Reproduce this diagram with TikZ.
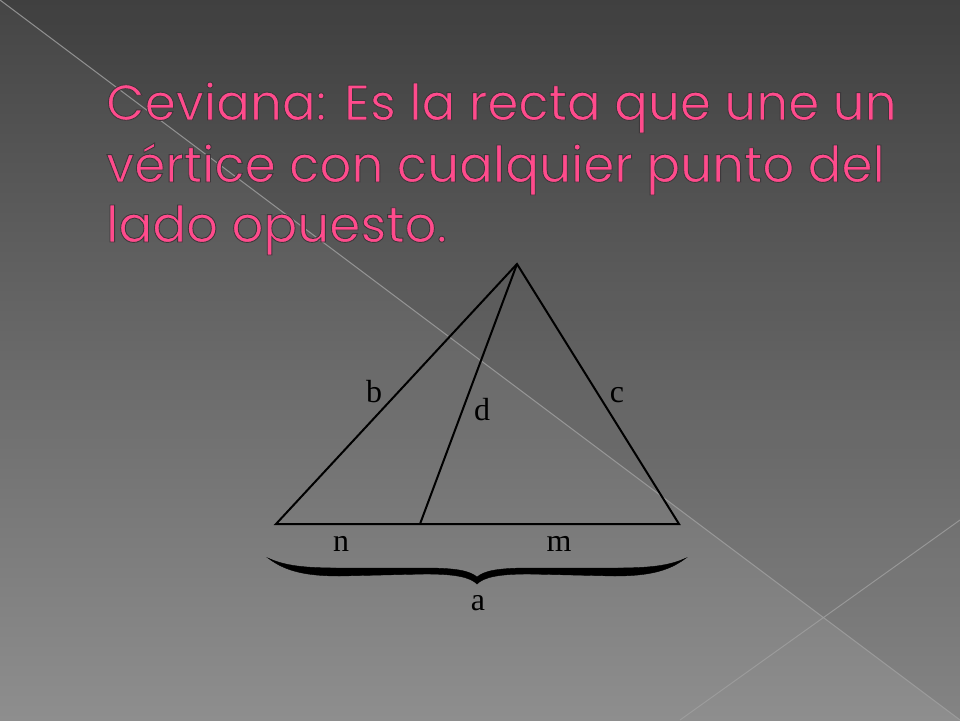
\documentclass[tikz,border=0pt]{standalone}
\usepackage{fontspec}
\setmainfont{Liberation Serif}
\newfontfamily\titlefont{Poppins}
\definecolor{bgtop}{HTML}{454545}
\definecolor{bgbot}{HTML}{8E8E8E}
\definecolor{titlepink}{HTML}{FF4B8C}
\definecolor{diagline}{HTML}{A0A0A0}
\newcommand{\outlinedtext}[1]{\special{pdf:literal direct 2 Tr 0.9 w 0.24 0.22 0.23 RG}#1\special{pdf:literal direct 0 Tr}}
\tikzset{
  titleline/.style={anchor=base west, inner sep=0pt, text=titlepink, font=\titlefont\fontsize{50}{60}\selectfont},
  seglabel/.style={anchor=base, inner sep=0pt, text=black, font=\fontsize{32}{36}\selectfont},
  side/.style={draw=black, line width=2pt, line join=miter},
  bgline/.style={draw=diagline, line width=1pt, opacity=0.8},
  bracefill/.style={fill=black, draw=black, line width=0.4pt}
}
\begin{document}
\begin{tikzpicture}[x=1pt,y=-1pt]
\useasboundingbox (0,0) rectangle (960,720);
% background
\shade[top color=bgtop, bottom color=bgbot] (0,0) rectangle (960,720);
\fill[black, opacity=0.07] (0,0) -- (960,0) -- (960,720) -- cycle;
\coordinate (g1) at (0,0);
\coordinate (g2) at (960,720);
\coordinate (g3) at (680,720);
\coordinate (g4) at (960,520);
\draw[bgline] (g1) -- (g2);
\draw[bgline] (g3) -- (g4);
% title
\node[titleline] (t1) at (106,120) {\outlinedtext{Ceviana: Es la recta que une un}};
\node[titleline] (t2) at (106,182) {\outlinedtext{vértice con cualquier punto del}};
\node[titleline] (t3) at (106,242) {\outlinedtext{lado opuesto.}};
% triangle
\coordinate (A) at (517,264);
\coordinate (B) at (276,524);
\coordinate (C) at (679,524);
\coordinate (D) at (420,524);
\draw[side] (B) -- (A) -- (C) -- cycle;
\draw[side] (A) -- (D);
% brace
\fill[bracefill] (268,558)
  .. controls (285,571) and (305,576) .. (340,576)
  -- (425,574)
  .. controls (455,574) and (470,577) .. (477,584)
  .. controls (484,577) and (499,574) .. (529,574)
  -- (614,576)
  .. controls (649,576) and (669,571) .. (686,558)
  .. controls (669,566) and (649,568) .. (614,568)
  -- (529,568)
  .. controls (497,568) and (484,571) .. (477,577)
  .. controls (470,571) and (457,568) .. (425,568)
  -- (340,568)
  .. controls (305,568) and (285,566) .. (268,558) -- cycle;
% labels
\node[seglabel] (lb) at (374,402) {b};
\node[seglabel] (lc) at (617,402) {c};
\node[seglabel] (ld) at (482,420) {d};
\node[seglabel] (ln) at (341,551) {n};
\node[seglabel] (lm) at (559,551) {m};
\node[seglabel] (la) at (478,610) {a};
\end{tikzpicture}
\end{document}
